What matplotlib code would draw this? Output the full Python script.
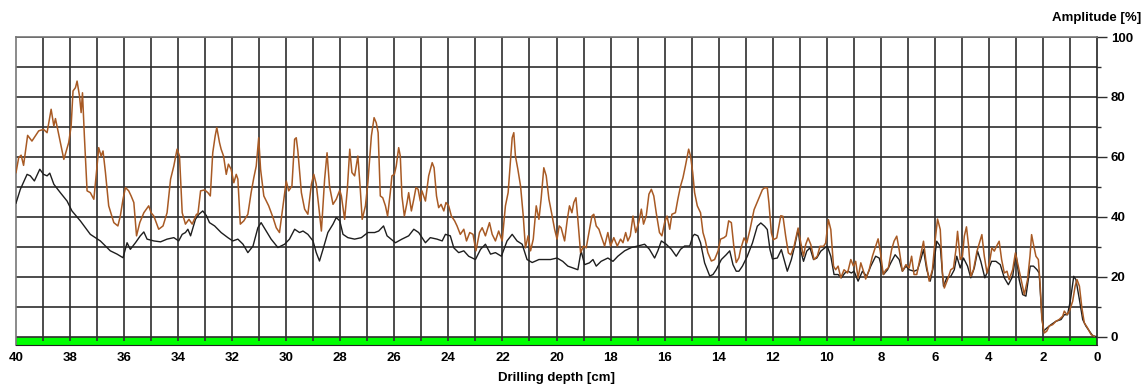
import numpy as np
from matplotlib import pyplot as plt
from matplotlib.ticker import MultipleLocator

# brown curve: amplitude vs drilling depth
amp_depth = [40.00, 39.90, 39.81, 39.72, 39.57, 39.41, 39.16, 38.98, 38.85, 38.70, 38.60, 38.54, 38.42, 38.23,
             38.05, 37.96, 37.89, 37.80, 37.74, 37.65, 37.59, 37.54, 37.47, 37.37, 37.25, 37.12, 37.00, 36.94,
             36.85, 36.78, 36.69, 36.57, 36.38, 36.23, 36.14, 36.04, 35.95, 35.83, 35.74, 35.64, 35.54, 35.42,
             35.27, 35.09, 35.00, 34.90, 34.72, 34.56, 34.41, 34.28, 34.16, 34.04, 33.95, 33.85, 33.73, 33.60,
             33.48, 33.32, 33.27, 33.17, 33.02, 32.90, 32.81, 32.72, 32.63, 32.57, 32.47, 32.41, 32.32, 32.22,
             32.14, 32.04, 31.94, 31.85, 31.79, 31.70, 31.57, 31.42, 31.30, 31.20, 31.11, 31.02, 30.95, 30.83,
             30.65, 30.49, 30.37, 30.25, 30.12, 30.00, 29.91, 29.79, 29.69, 29.63, 29.57, 29.44, 29.32, 29.20,
             29.07, 28.98, 28.89, 28.80, 28.70, 28.58, 28.49, 28.40, 28.27, 28.15, 28.02, 27.96, 27.84, 27.74,
             27.65, 27.57, 27.47, 27.35, 27.26, 27.19, 27.07, 26.98, 26.85, 26.75, 26.67, 26.60, 26.52, 26.43,
             26.33, 26.25, 26.15, 26.09, 26.00, 25.93, 25.84, 25.78, 25.72, 25.63, 25.53, 25.47, 25.37, 25.28,
             25.20, 25.12, 25.04, 24.98, 24.85, 24.73, 24.60, 24.53, 24.44, 24.36, 24.27, 24.17, 24.09, 23.99,
             23.89, 23.77, 23.68, 23.56, 23.43, 23.33, 23.21, 23.09, 22.98, 22.85, 22.75, 22.63, 22.48, 22.38,
             22.26, 22.14, 22.01, 21.89, 21.79, 21.70, 21.64, 21.58, 21.52, 21.43, 21.33, 21.23, 21.15, 21.05,
             20.96, 20.86, 20.75, 20.65, 20.57, 20.47, 20.38, 20.28, 20.16, 20.07, 19.98, 19.90, 19.83, 19.70,
             19.60, 19.52, 19.43, 19.36, 19.28, 19.21, 19.11, 19.00, 18.90, 18.80, 18.69, 18.62, 18.53, 18.43,
             18.35, 18.22, 18.10, 18.00, 17.88, 17.75, 17.63, 17.54, 17.44, 17.36, 17.27, 17.17, 17.07, 16.96,
             16.86, 16.78, 16.68, 16.58, 16.49, 16.40, 16.31, 16.19, 16.10, 16.00, 15.91, 15.81, 15.73, 15.60,
             15.51, 15.41, 15.32, 15.23, 15.17, 15.11, 15.04, 14.96, 14.89, 14.79, 14.67, 14.58, 14.49, 14.40,
             14.27, 14.15, 14.02, 13.93, 13.80, 13.72, 13.63, 13.53, 13.44, 13.35, 13.25, 13.19, 13.06, 12.96,
             12.84, 12.69, 12.51, 12.38, 12.30, 12.20, 12.14, 12.05, 11.98, 11.85, 11.70, 11.62, 11.52, 11.42,
             11.33, 11.21, 11.06, 10.96, 10.86, 10.78, 10.69, 10.59, 10.47, 10.35, 10.25, 10.12, 10.04, 9.94,
             9.85, 9.75, 9.67, 9.58, 9.48, 9.36, 9.23, 9.11, 9.01, 8.93, 8.84, 8.74, 8.64, 8.56, 8.43, 8.31,
             8.19, 8.10, 8.02, 7.91, 7.81, 7.72, 7.60, 7.51, 7.41, 7.32, 7.20, 7.07, 6.95, 6.86, 6.77, 6.67,
             6.52, 6.42, 6.33, 6.21, 6.09, 6.00, 5.90, 5.80, 5.72, 5.65, 5.53, 5.41, 5.31, 5.22, 5.16, 5.06,
             4.98, 4.91, 4.83, 4.75, 4.67, 4.57, 4.44, 4.33, 4.26, 4.17, 4.07, 3.98, 3.89, 3.80, 3.72, 3.62,
             3.53, 3.43, 3.33, 3.25, 3.12, 3.02, 2.94, 2.81, 2.69, 2.57, 2.48, 2.42, 2.35, 2.26, 2.17, 2.10,
             2.04, 1.95, 1.86, 1.77, 1.64, 1.52, 1.40, 1.27, 1.21, 1.11, 1.02, 0.90, 0.81, 0.74, 0.65, 0.56,
             0.47, 0.35, 0.22, 0.10]
amp_value = [54.8, 59.8, 60.6, 57.2, 67.2, 65.3, 68.7, 69.2, 68.1, 75.9, 70.3, 72.8, 67.6, 59.2,
             64.8, 70.3, 82.0, 83.1, 85.3, 80.3, 74.8, 81.4, 67.0, 48.7, 48.1, 45.9, 57.0, 63.1,
             60.3, 62.0, 54.8, 43.7, 38.1, 37.0, 40.3, 45.9, 49.8, 48.7, 47.0, 44.8, 33.7, 38.1,
             41.4, 43.7, 41.4, 40.3, 35.9, 37.0, 41.4, 52.6, 57.0, 62.6, 60.3, 41.4, 37.6, 39.2,
             37.6, 40.9, 40.9, 48.7, 49.0, 48.1, 47.0, 61.4, 67.0, 69.8, 64.8, 62.6, 60.3, 54.2,
             57.6, 55.9, 51.4, 54.2, 52.6, 37.6, 38.7, 40.9, 48.1, 53.1, 57.0, 66.4, 55.9, 47.0,
             43.7, 39.8, 36.4, 34.8, 43.7, 52.0, 48.7, 50.3, 65.9, 66.4, 62.0, 48.1, 42.6, 40.9,
             50.9, 54.2, 50.9, 43.7, 35.3, 52.6, 61.4, 50.3, 44.2, 45.9, 48.9, 47.0, 39.2, 49.2,
             62.6, 54.8, 53.7, 60.3, 49.2, 39.2, 43.7, 51.4, 67.0, 73.1, 71.4, 68.1, 47.0, 46.4,
             43.7, 40.3, 48.1, 53.7, 54.2, 57.0, 63.1, 60.3, 47.0, 40.3, 44.8, 48.1, 42.0, 45.9,
             49.8, 49.2, 45.3, 48.7, 45.3, 53.7, 58.1, 56.4, 47.0, 43.1, 44.2, 42.0, 44.8, 43.7,
             40.3, 38.7, 37.0, 34.2, 35.9, 32.0, 34.8, 34.2, 28.7, 34.8, 36.4, 33.7, 38.1, 34.2,
             32.0, 35.3, 32.0, 43.7, 48.1, 59.2, 66.4, 68.1, 60.3, 55.9, 50.3, 40.3, 29.7, 33.7,
             28.7, 32.6, 43.7, 39.2, 45.9, 56.4, 53.7, 45.9, 40.3, 35.9, 32.6, 37.0, 36.4, 32.0,
             39.2, 43.7, 41.4, 44.8, 46.4, 39.2, 28.1, 30.3, 29.7, 34.8, 40.3, 40.9, 37.0, 35.9,
             33.7, 30.3, 34.8, 30.3, 33.1, 30.3, 32.6, 31.4, 34.8, 32.0, 33.7, 40.3, 34.8, 38.1,
             42.6, 37.6, 40.3, 47.6, 49.2, 47.0, 41.4, 34.8, 33.7, 38.1, 40.3, 35.9, 40.9, 41.4,
             45.9, 50.3, 53.1, 57.0, 59.8, 62.6, 60.3, 54.8, 48.1, 43.7, 41.4, 34.8, 32.0, 28.1,
             25.3, 25.8, 28.7, 32.6, 33.1, 33.7, 38.7, 38.1, 30.3, 24.8, 26.4, 29.1, 33.0, 31.3,
             35.8, 42.4, 46.3, 49.1, 49.7, 49.7, 44.7, 34.7, 32.4, 33.0, 40.4, 40.2, 33.6, 28.0,
             27.4, 30.2, 36.3, 31.3, 26.9, 30.8, 33.0, 30.8, 25.8, 26.9, 30.2, 30.2, 31.3, 39.1,
             35.8, 23.6, 22.4, 23.6, 19.7, 22.4, 21.3, 25.8, 23.6, 25.2, 19.7, 24.7, 21.9, 19.3, 22.4, 26.9,
             30.2, 32.7, 28.6, 20.8, 22.4, 23.0, 29.1, 31.9, 33.6, 29.1, 21.9, 24.1, 23.0, 26.9, 20.8, 20.8,
             27.4, 31.9, 25.2, 18.6, 22.4, 31.3, 39.3, 35.8, 21.3, 16.3, 19.1, 22.4, 23.0, 29.1, 35.2, 25.8,
             26.9, 33.6, 36.7, 30.2, 20.2, 22.4, 28.6, 31.9, 34.1, 26.9, 21.3, 24.7, 29.7, 28.6, 30.2, 31.9,
             25.8, 21.3, 21.9, 19.1, 22.4, 28.0, 24.7, 19.1, 14.1, 19.1, 26.9, 34.1, 30.8, 26.9, 25.8, 16.9,
             5.8, 1.3, 1.9, 3.6, 4.1, 5.2, 5.8, 6.9, 8.6, 7.4, 8.6, 11.9, 16.9, 19.1, 16.9, 9.7,
             4.7, 3.0, 0.8, 0.2]

# black curve: smoothed amplitude
avg_depth = [40.00, 39.84, 39.59, 39.47, 39.32, 39.12, 38.98, 38.85, 38.75, 38.60, 38.36, 38.11, 37.93, 37.62,
             37.25, 36.88, 36.51, 36.26, 36.04, 35.89, 35.77, 35.58, 35.40, 35.27, 35.15, 34.90, 34.65, 34.41,
             34.16, 33.98, 33.85, 33.73, 33.64, 33.54, 33.36, 33.23, 33.09, 32.96, 32.84, 32.65, 32.41, 32.16,
             31.98, 31.79, 31.60, 31.42, 31.23, 31.05, 30.93, 30.74, 30.56, 30.31, 30.06, 29.88, 29.69, 29.51,
             29.38, 29.20, 29.01, 28.89, 28.77, 28.64, 28.46, 28.27, 28.15, 28.02, 27.90, 27.72, 27.47, 27.22,
             26.98, 26.73, 26.58, 26.40, 26.27, 25.96, 25.72, 25.47, 25.28, 25.10, 24.85, 24.67, 24.42, 24.23,
             24.11, 23.93, 23.80, 23.62, 23.43, 23.25, 23.00, 22.81, 22.63, 22.44, 22.26, 22.04, 21.83, 21.64,
             21.46, 21.27, 21.09, 20.90, 20.65, 20.41, 20.22, 19.98, 19.77, 19.58, 19.40, 19.21, 19.09, 18.96,
             18.78, 18.65, 18.53, 18.35, 18.10, 17.91, 17.73, 17.48, 17.23, 16.99, 16.74, 16.56, 16.37, 16.25,
             16.12, 15.94, 15.75, 15.57, 15.41, 15.26, 15.07, 14.95, 14.89, 14.77, 14.67, 14.52, 14.33, 14.21,
             14.09, 13.90, 13.72, 13.59, 13.47, 13.35, 13.25, 13.12, 12.94, 12.75, 12.57, 12.44, 12.30, 12.20,
             12.10, 12.01, 11.83, 11.68, 11.58, 11.46, 11.31, 11.19, 11.06, 10.96, 10.86, 10.74, 10.62, 10.49,
             10.37, 10.22, 10.07, 9.98, 9.85, 9.73, 9.58, 9.46, 9.33, 9.21, 9.09, 8.99, 8.84, 8.68, 8.52, 8.37,
             8.19, 8.06, 7.90, 7.75, 7.63, 7.47, 7.32, 7.20, 7.07, 6.95, 6.77, 6.64, 6.52, 6.42, 6.30, 6.17,
             6.05, 5.93, 5.80, 5.68, 5.56, 5.41, 5.28, 5.19, 5.06, 4.94, 4.79, 4.67, 4.54, 4.42, 4.30, 4.15,
             4.02, 3.90, 3.74, 3.58, 3.43, 3.28, 3.12, 3.00, 2.88, 2.75, 2.63, 2.54, 2.47, 2.35, 2.22, 2.14,
             2.05, 1.98, 1.85, 1.70, 1.52, 1.33, 1.21, 1.09, 0.99, 0.86, 0.78, 0.65, 0.53, 0.41, 0.28, 0.16, 0.07]
avg_value = [44.6, 49.2, 54.2, 53.7, 52.0, 55.9, 54.2, 53.7, 54.6, 50.9, 48.1, 45.3, 42.0, 38.7,
             34.2, 32.0, 28.7, 27.6, 26.4, 31.4, 29.2, 31.4, 33.7, 35.0, 32.6, 32.0, 31.7, 32.6,
             33.1, 32.0, 34.2, 34.8, 35.9, 33.7, 39.2, 40.9, 42.0, 40.5, 38.1, 37.0, 34.8, 33.1,
             32.0, 32.6, 30.9, 28.1, 30.3, 36.4, 38.1, 35.3, 32.6, 29.8, 30.9, 32.6, 35.9, 34.8,
             35.3, 34.2, 32.0, 28.1, 25.3, 29.2, 34.8, 37.6, 39.8, 38.7, 34.2, 33.1, 32.6, 33.1,
             34.8, 34.8, 35.3, 37.0, 33.7, 31.4, 32.6, 33.7, 35.9, 34.8, 31.4, 33.1, 32.6, 32.0,
             34.2, 33.7, 29.7, 28.1, 28.7, 26.9, 25.8, 29.2, 30.9, 27.6, 28.1, 26.9, 32.0, 34.2,
             32.0, 30.9, 25.8, 24.8, 25.8, 25.8, 25.8, 26.3, 25.2, 23.6, 23.0, 22.4, 28.7, 24.1,
             24.7, 25.8, 23.6, 25.2, 26.3, 25.2, 26.9, 28.7, 29.8, 30.3, 30.9, 29.2, 26.3, 28.7,
             32.0, 30.9, 29.2, 26.9, 29.2, 30.3, 30.3, 33.7, 34.2, 33.7, 31.4, 24.7, 20.3, 20.8,
             22.4, 25.8, 27.4, 28.7, 24.1, 21.9, 21.9, 23.6, 26.9, 31.3, 36.9, 38.0, 36.9, 35.8,
             29.1, 26.0, 26.3, 29.1, 25.8, 21.9, 25.8, 30.2, 35.8, 28.6, 25.2, 28.6, 29.7, 25.8,
             26.3, 28.6, 29.7, 30.2, 26.9, 20.8, 20.8, 19.7, 21.3, 21.9, 21.3, 21.9, 18.6, 21.9, 20.2, 23.6,
             26.9, 26.3, 20.8, 22.4, 24.7, 27.4, 25.8, 21.9, 23.6, 22.4, 21.9, 22.4, 25.8, 29.1, 22.4, 18.6,
             23.6, 31.9, 30.2, 16.9, 19.7, 20.2, 22.4, 26.9, 23.0, 26.3, 23.6, 19.7, 23.0, 28.6, 25.2, 19.7,
             22.4, 25.2, 25.2, 24.1, 19.7, 17.4, 20.2, 28.0, 19.1, 14.1, 13.6, 19.1, 23.6, 23.6, 22.4, 21.3,
             8.0, 1.9, 3.0, 4.1, 5.2, 5.8, 7.4, 7.4, 11.9, 20.2, 19.1, 12.4, 5.8, 3.6, 1.9, 0.4, 0.2]

x_ticks = np.arange(0, 41, 2)
y_ticks = np.arange(0, 101, 20)

plt.rcParams['font.family'] = ['Liberation Sans', 'DejaVu Sans']
plt.rcParams['font.weight'] = 'bold'

fig = plt.figure(figsize=(11.45, 3.87), dpi=100)
ax = fig.add_axes([16 / 1145, 1 - 345 / 387, 1081 / 1145, 308 / 387])

grid_col = '#2e2e2e'
ax.set_xlim(40, 0)
ax.set_ylim(-2.7, 100)

# green base band + grid
ax.axhspan(-2.7, 0, color='#00ff00', zorder=1, lw=0)
ax.hlines(np.arange(0, 101, 10), 40, 0, color=grid_col, lw=1.2, zorder=2)
ax.vlines(np.arange(1, 40), -1.3, 100, color=grid_col, lw=1.2, zorder=2)

ax.plot(avg_depth, avg_value, color='#1e1e1e', lw=1.0, zorder=4)
ax.plot(amp_depth, amp_value, color='#a85a24', lw=1.1, zorder=5)

for side in ['top', 'left']:
    ax.spines[side].set_color('#777777')
    ax.spines[side].set_linewidth(1.2)
ax.spines['bottom'].set_color('#222222')
ax.spines['right'].set_color('#222222')
ax.spines['right'].set_linewidth(1.2)

ax.yaxis.tick_right()
ax.set_yticks(y_ticks)
ax.yaxis.set_minor_locator(MultipleLocator(10))
ax.tick_params(axis='y', which='major', length=7, width=1.0, color=grid_col, pad=3, labelsize=9.5)
ax.tick_params(axis='y', which='minor', length=3, width=1.0, color=grid_col)
ax.set_xticks(x_ticks)
ax.tick_params(axis='x', length=0, pad=5, labelsize=9.5)

ax.set_xlabel('Drilling depth [cm]', fontsize=9.5, fontweight='bold', labelpad=6)
fig.text(1141 / 1145, 1 - 18 / 387, 'Amplitude [%]', ha='right', va='center',
         fontsize=9.5, fontweight='bold')

fig.savefig('out.png', dpi=100)
